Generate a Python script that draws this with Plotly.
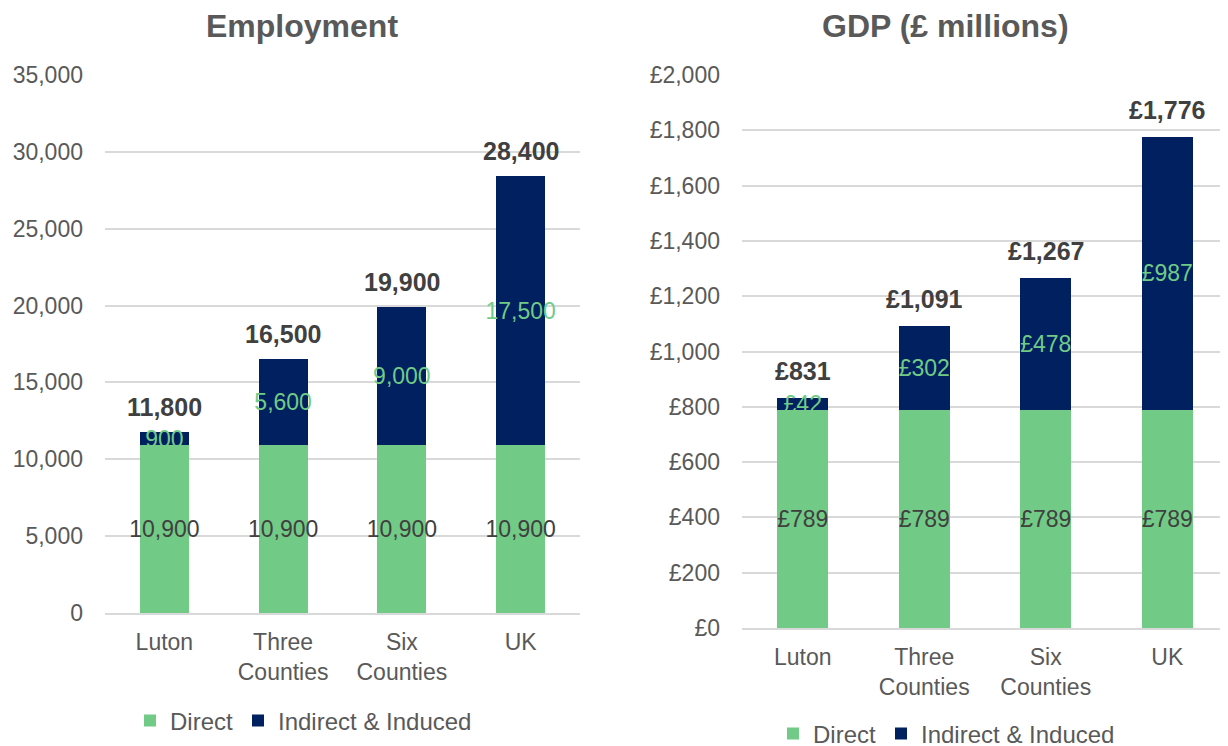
import plotly.graph_objects as go

# ---- data ----
categories = ["Luton", "Three Counties", "Six Counties", "UK"]
tick_labels = ["Luton", "Three<br>Counties", "Six<br>Counties", "UK"]

emp_direct = [10900, 10900, 10900, 10900]
emp_indirect = [900, 5600, 9000, 17500]

gdp_direct = [789, 789, 789, 789]
gdp_indirect = [42, 302, 478, 987]

emp_ticks = [0, 5000, 10000, 15000, 20000, 25000, 30000, 35000]
gdp_ticks = [0, 200, 400, 600, 800, 1000, 1200, 1400, 1600, 1800, 2000]

# ---- styles ----
W, H = 1228, 746
OFF = 8  # page body margin


def px(x):
    return (x - OFF) / W


def py(y):
    return 1 - (y - OFF) / H


GREEN = "#71CB86"
NAVY = "#002060"
GRID = "#D9D9D9"
AXIS_TXT = "#595959"
LBL_TXT = "#404040"
FONT = "Liberation Sans, Arial, sans-serif"

fig = go.Figure()

common_bar = dict(textposition="inside", insidetextanchor="middle",
                  constraintext="none", textangle=0, marker_line_width=0)

# Employment
fig.add_trace(go.Bar(
    x=categories, y=emp_direct, name="Direct", marker_color=GREEN,
    text=[f"{v:,}" for v in emp_direct],
    textfont=dict(size=23, color=LBL_TXT, family=FONT),
    xaxis="x", yaxis="y", legend="legend", width=0.413, **common_bar,
))
fig.add_trace(go.Bar(
    x=categories, y=emp_indirect, name="Indirect & Induced", marker_color=NAVY,
    text=[f"{v:,}" for v in emp_indirect],
    textfont=dict(size=23, color=GREEN, family=FONT),
    xaxis="x", yaxis="y", legend="legend", width=0.413, **common_bar,
))

# GDP
fig.add_trace(go.Bar(
    x=categories, y=gdp_direct, name="Direct", marker_color=GREEN,
    text=[f"£{v:,}" for v in gdp_direct],
    textfont=dict(size=23, color=LBL_TXT, family=FONT),
    xaxis="x2", yaxis="y2", legend="legend2", width=0.42, **common_bar,
))
fig.add_trace(go.Bar(
    x=categories, y=gdp_indirect, name="Indirect & Induced", marker_color=NAVY,
    text=[f"£{v:,}" for v in gdp_indirect],
    textfont=dict(size=23, color=GREEN, family=FONT),
    xaxis="x2", yaxis="y2", legend="legend2", width=0.42, **common_bar,
))

# totals
annotations = []
for c, d, i in zip(categories, emp_direct, emp_indirect):
    annotations.append(dict(
        x=c, y=d + i, xref="x", yref="y", text=f"<b>{d + i:,}</b>",
        showarrow=False, yanchor="bottom", yshift=9,
        font=dict(size=25, color=LBL_TXT, family=FONT)))
for c, d, i in zip(categories, gdp_direct, gdp_indirect):
    annotations.append(dict(
        x=c, y=d + i, xref="x2", yref="y2", text=f"<b>£{d + i:,}</b>",
        showarrow=False, yanchor="bottom", yshift=11,
        font=dict(size=25, color=LBL_TXT, family=FONT)))

# titles
annotations.append(dict(x=px(302), y=py(26), xref="paper", yref="paper",
                        text="<b>Employment</b>", showarrow=False,
                        xanchor="center", yanchor="middle",
                        font=dict(size=32, color=AXIS_TXT, family=FONT)))
annotations.append(dict(x=px(945), y=py(26), xref="paper", yref="paper",
                        text="<b>GDP (£ millions)</b>", showarrow=False,
                        xanchor="center", yanchor="middle",
                        font=dict(size=32, color=AXIS_TXT, family=FONT)))

xcommon = dict(
    type="category", categoryorder="array", categoryarray=categories,
    tickmode="array", tickvals=categories, ticktext=tick_labels,
    showgrid=False, showline=True, linecolor=GRID, linewidth=1.5,
    ticks="", tickfont=dict(size=23, color=AXIS_TXT, family=FONT),
    ticklabelstandoff=8, zeroline=False, fixedrange=True, automargin=False,
)
ycommon = dict(
    showgrid=True, gridcolor=GRID, gridwidth=1.5, zeroline=False,
    showline=False, ticks="", tickfont=dict(size=23, color=AXIS_TXT, family=FONT),
    ticklabelstandoff=21, tickmode="array", fixedrange=True, automargin=False,
)

fig.update_layout(
    width=W, height=H,
    margin=dict(l=0, r=0, t=0, b=0, autoexpand=False),
    paper_bgcolor="white", plot_bgcolor="white",
    barmode="stack",
    font=dict(family=FONT, color=AXIS_TXT),
    xaxis=dict(domain=[px(105), px(580)], anchor="y", **xcommon),
    yaxis=dict(domain=[py(613), py(75)], anchor="x",
               range=[0, 35000], tickvals=emp_ticks,
               ticktext=[f"{v:,}" for v in emp_ticks], **ycommon),
    xaxis2=dict(domain=[px(742), px(1228)], anchor="y2", **xcommon),
    yaxis2=dict(domain=[py(628), py(75)], anchor="x2",
                range=[0, 2000], tickvals=gdp_ticks,
                ticktext=[f"£{v:,}" for v in gdp_ticks], **ycommon),
    legend=dict(orientation="h", x=px(146 - 16), xanchor="left",
                y=py(721), yanchor="middle",
                font=dict(size=24, color=AXIS_TXT, family=FONT),
                bgcolor="rgba(0,0,0,0)", traceorder="normal"),
    legend2=dict(orientation="h", x=px(789 - 16), xanchor="left",
                 y=py(734), yanchor="middle",
                 font=dict(size=24, color=AXIS_TXT, family=FONT),
                 bgcolor="rgba(0,0,0,0)", traceorder="normal"),
    annotations=annotations,
    showlegend=True,
)

fig.write_html("out.html")
